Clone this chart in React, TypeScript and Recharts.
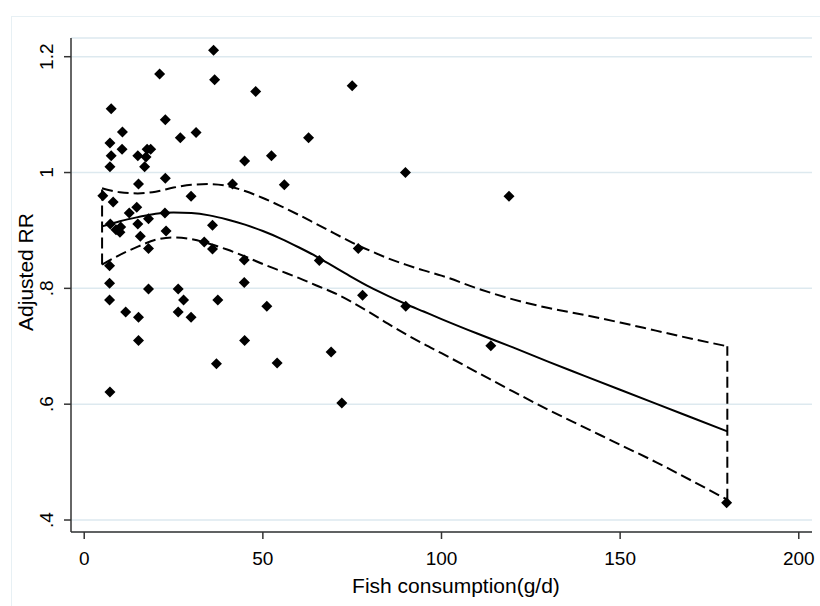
import React from 'react';
import { ComposedChart, Scatter, Line, XAxis, YAxis, CartesianGrid } from 'recharts';

// Observed study estimates (fish consumption g/d, adjusted RR)
const obsX = [
  36.2, 21.1, 36.5, 48.0, 75.0, 7.55, 22.7, 10.7, 31.3, 26.9, 62.8, 7.2, 10.6, 17.6, 18.6,
  17.3, 15.0, 7.55, 52.4, 44.9, 7.2, 16.9, 89.9, 22.7, 15.2, 41.5, 56.0, 5.2, 29.9, 118.9,
  8.1, 14.7, 12.6, 22.6, 7.3, 15.0, 35.9, 10.2, 8.9, 10.0, 18.0, 15.7, 22.9, 18.0, 33.6,
  35.9, 76.7, 65.8, 44.8, 7.1, 7.1, 44.8, 18.0, 26.3, 77.9, 7.1, 27.8, 37.4, 51.1, 90.0,
  11.6, 26.3, 15.2, 29.9, 15.2, 44.9, 37.0, 54.0, 69.1, 72.1, 113.8, 7.2, 179.8,
];
const obsY = [
  1.211, 1.17, 1.16, 1.14, 1.15, 1.11, 1.091, 1.07, 1.069, 1.06, 1.06, 1.051, 1.04, 1.04, 1.04,
  1.027, 1.029, 1.029, 1.029, 1.02, 1.01, 1.01, 1.0, 0.99, 0.98, 0.98, 0.979, 0.96, 0.959, 0.959,
  0.949, 0.94, 0.93, 0.93, 0.911, 0.911, 0.909, 0.906, 0.901, 0.897, 0.92, 0.89, 0.899, 0.869, 0.88,
  0.868, 0.869, 0.848, 0.849, 0.839, 0.809, 0.81, 0.799, 0.799, 0.788, 0.78, 0.78, 0.78, 0.769, 0.769,
  0.759, 0.759, 0.75, 0.75, 0.71, 0.71, 0.67, 0.671, 0.69, 0.602, 0.701, 0.621, 0.43,
];

// Fitted curve and 95% confidence limits
const curveX = [5, 10, 15, 20, 25, 30, 35, 40, 45, 50, 55, 60, 65, 70, 75, 80, 85, 90, 95, 100, 110, 120, 130, 140, 150, 160, 170, 180];
const fitY = [0.907, 0.916, 0.923, 0.929, 0.931, 0.93, 0.926, 0.919, 0.91, 0.899, 0.886, 0.871, 0.855, 0.837, 0.819, 0.802, 0.787, 0.773, 0.76, 0.747, 0.722, 0.698, 0.673, 0.649, 0.625, 0.601, 0.577, 0.553];
const upperY = [0.973, 0.966, 0.964, 0.967, 0.974, 0.979, 0.98, 0.977, 0.968, 0.956, 0.942, 0.927, 0.911, 0.895, 0.879, 0.865, 0.852, 0.841, 0.831, 0.822, 0.8, 0.781, 0.766, 0.754, 0.741, 0.727, 0.713, 0.7];
const lowerY = [0.841, 0.858, 0.872, 0.884, 0.888, 0.885, 0.877, 0.867, 0.855, 0.842, 0.83, 0.818, 0.805, 0.792, 0.776, 0.758, 0.739, 0.721, 0.704, 0.688, 0.655, 0.622, 0.59, 0.56, 0.53, 0.5, 0.468, 0.435];

const xTicks = [0, 50, 100, 150, 200];
const yTicks = [0.4, 0.6, 0.8, 1, 1.2];
const yTickLabels = ['.4', '.6', '.8', '1', '1.2'];

const xTitle = 'Fish consumption(g/d)';
const yTitle = 'Adjusted RR';

const last = curveX.length - 1;
const points = obsX.map((x, i) => ({ x, y: obsY[i] }));
const fitData = curveX.map((x, i) => ({ x, y: fitY[i] }));
const upperData = curveX.map((x, i) => ({ x, y: upperY[i] }));
const lowerData = curveX.map((x, i) => ({ x, y: lowerY[i] }));
const leftEdge = [{ x: curveX[0], y: lowerY[0] }, { x: curveX[0], y: upperY[0] }];
const rightEdge = [{ x: curveX[last], y: lowerY[last] }, { x: curveX[last], y: upperY[last] }];

const FONT = "'Liberation Sans', Arial, sans-serif";
const DASH = '11 5';

const Diamond = (props: any) => {
  const { cx, cy } = props;
  const r = 5.5;
  return <path d={`M${cx},${cy - r}L${cx + r},${cy}L${cx},${cy + r}L${cx - r},${cy}Z`} fill="#000" />;
};

const YTick = (p: any) => {
  const idx = yTicks.indexOf(p.payload.value);
  const label = idx >= 0 ? yTickLabels[idx] : String(p.payload.value);
  return (
    <text x={p.x} y={p.y} transform={`rotate(-90 ${p.x} ${p.y})`} textAnchor="middle" fontSize={19} fontFamily={FONT} fill="#000">
      {label}
    </text>
  );
};

const XTick = (p: any) => (
  <text x={p.x} y={p.y + 14} textAnchor="middle" fontSize={19} fontFamily={FONT} fill="#000">
    {p.payload.value}
  </text>
);

const lineProps = { dataKey: 'y', stroke: '#000', strokeWidth: 2, dot: false, activeDot: false, isAnimationActive: false } as any;

export default function App() {
  return (
    <div style={{ position: 'absolute', left: 0, top: 0, width: 820, height: 606, background: '#fff', overflow: 'hidden' }}>
      <div style={{ position: 'absolute', left: 11, top: 16, width: 820, height: 606, borderTop: '1.5px solid #e7f0f4', borderLeft: '1.5px solid #e7f0f4' }} />
      <div style={{ position: 'absolute', left: 0, top: 0 }}>
        <ComposedChart width={820} height={606} margin={{ top: 38, right: 8, bottom: 24, left: 0 }}>
          <CartesianGrid vertical={false} stroke="#dde9ef" strokeWidth={1.5} />
          <XAxis
            type="number"
            dataKey="x"
            domain={[-3.7, 203.7]}
            allowDataOverflow
            ticks={xTicks}
            height={50}
            tickSize={7}
            tickMargin={12}
            axisLine={{ stroke: '#333', strokeWidth: 1.5 }}
            tickLine={{ stroke: '#333', strokeWidth: 1.5 }}
            tick={<XTick />}
            interval={0}
          />
          <YAxis
            type="number"
            dataKey="y"
            domain={[0.3793, 1.2323]}
            allowDataOverflow
            ticks={yTicks}
            width={71}
            tickSize={7}
            tickMargin={11}
            axisLine={{ stroke: '#333', strokeWidth: 1.5 }}
            tickLine={{ stroke: '#333', strokeWidth: 1.5 }}
            tick={<YTick />}
            interval={0}
          />
          <Line {...lineProps} data={lowerData} type="monotone" strokeDasharray={DASH} />
          <Line {...lineProps} data={upperData} type="monotone" strokeDasharray={DASH} />
          <Line {...lineProps} data={leftEdge} type="linear" strokeDasharray={DASH} />
          <Line {...lineProps} data={rightEdge} type="linear" strokeDasharray={DASH} />
          <Line {...lineProps} data={fitData} type="monotone" />
          <Scatter data={points} dataKey="y" shape={<Diamond />} isAnimationActive={false} />
        </ComposedChart>
      </div>
      <svg width={820} height={606} style={{ position: 'absolute', left: 0, top: 0, pointerEvents: 'none' }}>
        <text x={456} y={593} textAnchor="middle" fontSize={21} fontFamily={FONT} fill="#000">{xTitle}</text>
        <text x={33} y={272} transform="rotate(-90 33 272)" textAnchor="middle" fontSize={21} fontFamily={FONT} fill="#000">{yTitle}</text>
      </svg>
    </div>
  );
}
